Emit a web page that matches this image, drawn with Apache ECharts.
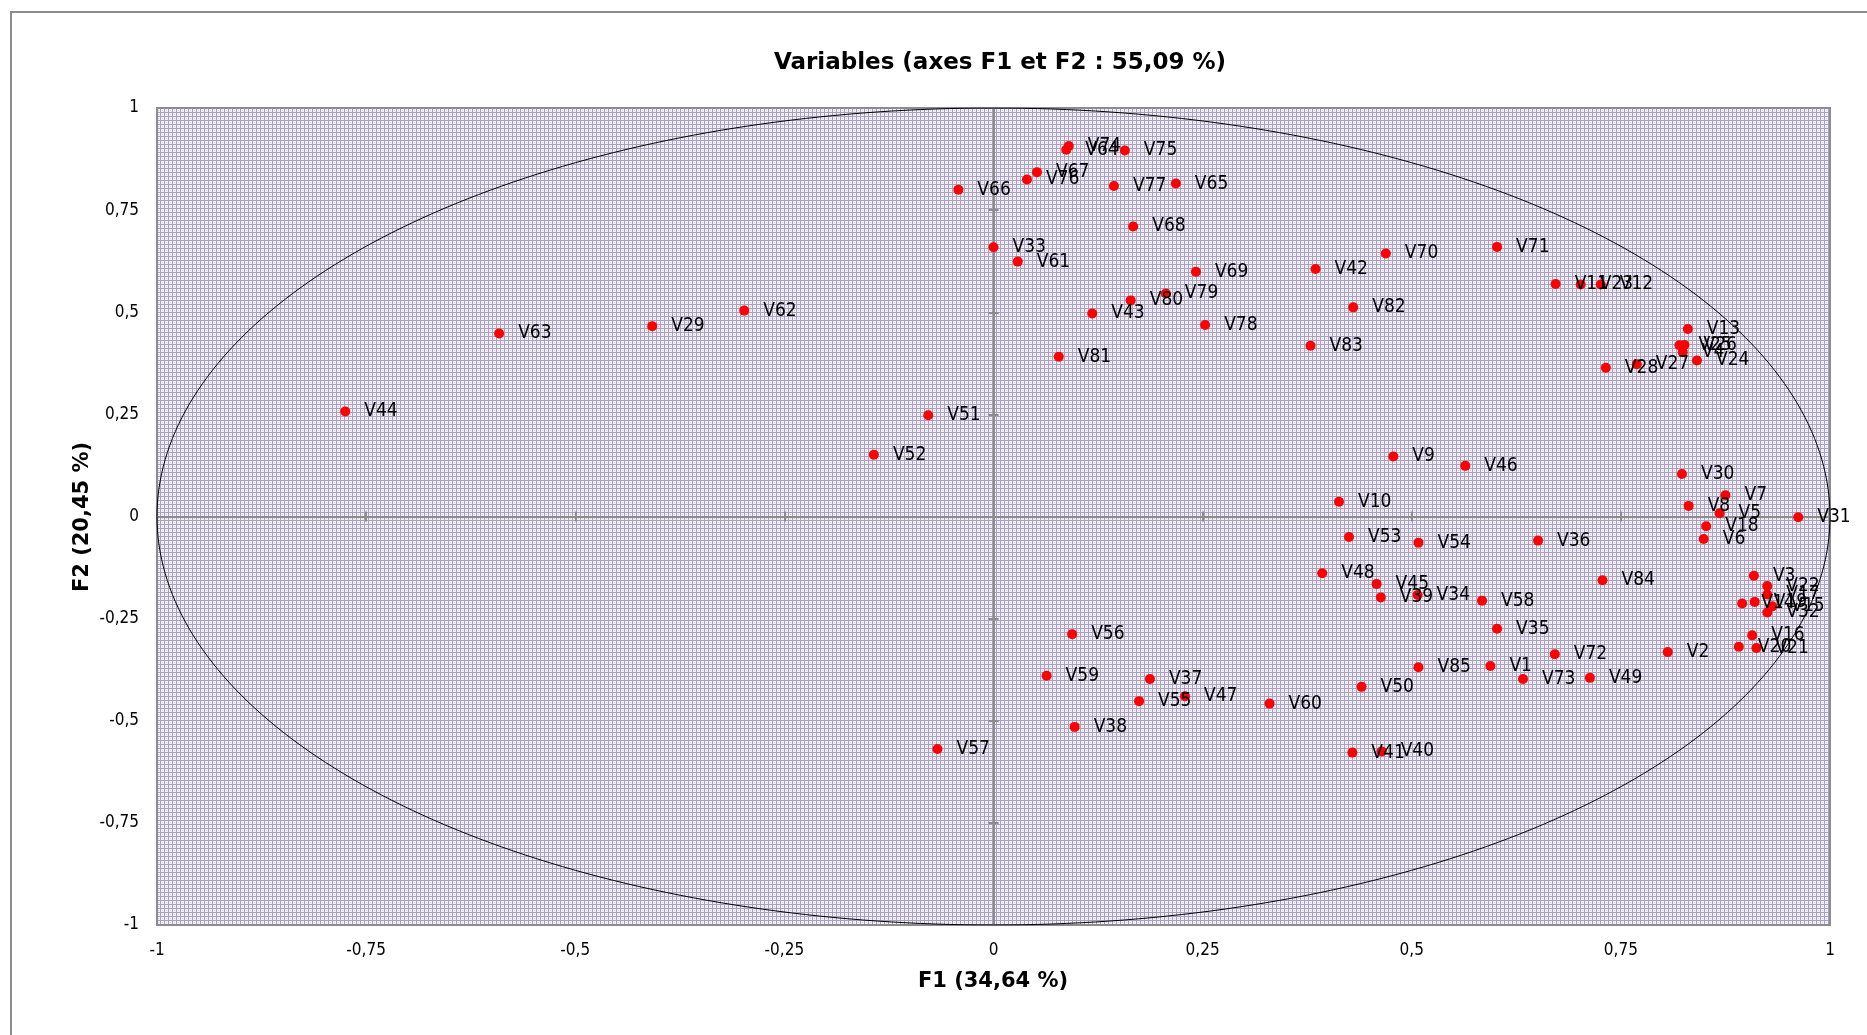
<!DOCTYPE html>
<html>
<head>
<meta charset="utf-8">
<script src="https://cdn.jsdelivr.net/npm/echarts@6/dist/echarts.min.js"></script>
<style>
html,body{margin:0;padding:0;background:#fff;}
#chart{width:1867px;height:1035px;}
</style>
</head>
<body>
<div id="chart"></div>
<script>
// ---- Data ----
const names = ["V1","V2","V3","V4","V5","V6","V7","V8","V9","V10",
"V11","V12","V13","V14","V15","V16","V17","V18","V19","V20",
"V21","V22","V23","V24","V25","V26","V27","V28","V29","V30",
"V31","V32","V33","V34","V35","V36","V37","V38","V39","V40",
"V41","V42","V43","V44","V45","V46","V47","V48","V49","V50",
"V51","V52","V53","V54","V55","V56","V57","V58","V59","V60",
"V61","V62","V63","V64","V65","V66","V67","V68","V69","V70",
"V71","V72","V73","V74","V75","V76","V77","V78","V79","V80",
"V81","V82","V83","V84","V85"];
const f1 = [0.594,0.806,0.909,0.824,0.868,0.849,0.875,0.831,0.478,0.413,
0.672,0.726,0.830,0.895,0.931,0.907,0.925,0.852,0.910,0.891,
0.912,0.925,0.702,0.841,0.820,0.826,0.769,0.732,-0.408,0.823,
0.962,0.925,0.000,0.507,0.602,0.651,0.187,0.097,0.463,0.464,
0.429,0.385,0.118,-0.775,0.458,0.564,0.229,0.393,0.713,0.440,
-0.078,-0.143,0.425,0.508,0.174,0.094,-0.067,0.584,0.0635,0.330,
0.029,-0.298,-0.591,0.087,0.218,-0.042,0.052,0.167,0.242,0.469,
0.602,0.671,0.633,0.090,0.157,0.040,0.144,0.253,0.206,0.164,
0.078,0.430,0.379,0.728,0.508];
const f2 = [-0.366,-0.332,-0.145,0.402,0.008,-0.055,0.052,0.026,0.147,0.036,
0.569,0.568,0.459,-0.213,-0.220,-0.291,-0.191,-0.024,-0.209,-0.319,
-0.322,-0.170,0.568,0.382,0.419,0.420,0.373,0.364,0.466,0.104,
-0.002,-0.235,0.659,-0.192,-0.275,-0.059,-0.398,-0.515,-0.198,-0.575,
-0.578,0.606,0.497,0.257,-0.165,0.124,-0.440,-0.139,-0.395,-0.417,
0.248,0.151,-0.050,-0.064,-0.452,-0.288,-0.569,-0.206,-0.390,-0.458,
0.624,0.504,0.448,0.898,0.815,0.800,0.843,0.710,0.599,0.644,
0.660,-0.337,-0.398,0.907,0.896,0.825,0.809,0.469,0.546,0.529,
0.391,0.512,0.418,-0.156,-0.369];
const axisTicks = [-1,-0.75,-0.5,-0.25,0,0.25,0.5,0.75,1];

const titleText = "Variables (axes F1 et F2 : 55,09 %)";
const xName = "F1 (34,64 %)";
const yName = "F2 (20,45 %)";

// unit correlation circle (reference geometry, radius 1)
const circle = [];
for (let a = 0; a <= 360; a += 1) {
  const r = a * Math.PI / 180;
  circle.push([Math.cos(r), Math.sin(r)]);
}

// background pattern (Excel-like small grid)
const pc = document.createElement('canvas');
pc.width = 4; pc.height = 4;
const pctx = pc.getContext('2d');
pctx.fillStyle = '#f4f2f8'; pctx.fillRect(0,0,4,4);
pctx.fillStyle = '#a79fbf';
pctx.fillRect(0,0,4,1);
pctx.fillRect(0,0,1,4);
pctx.fillStyle = '#d2cde0';
pctx.fillRect(2,2,1,1);

const fmt = v => String(v).replace('.', ',');
const lblFont = '"DejaVu Sans Condensed","Noto Sans",sans-serif';

const pts = names.map((n, i) => [f1[i], f2[i], n]);

const chart = echarts.init(document.getElementById('chart'), null, {renderer: 'canvas'});

const baseAxis = {
  type: 'value', min: -1, max: 1, interval: 0.25,
  splitLine: {show: false}
};
const labelAxisX = Object.assign({}, baseAxis, {
  position: 'bottom',
  axisLine: {show: false, onZero: false},
  axisTick: {show: false},
  axisLabel: {formatter: fmt, margin: 17, color: '#000', fontSize: 17, fontFamily: lblFont}
});
const labelAxisY = Object.assign({}, baseAxis, {
  position: 'left',
  axisLine: {show: false, onZero: false},
  axisTick: {show: false},
  axisLabel: {formatter: fmt, margin: 18, color: '#000', fontSize: 17, fontFamily: lblFont}
});
function zeroAxis(pos, inside) {
  return Object.assign({}, baseAxis, {
    position: pos,
    axisLine: {show: true, onZero: true, lineStyle: {color: '#8c8c8c', width: 2}},
    axisTick: {show: true, inside: inside, length: 5, lineStyle: {color: '#8c8c8c', width: 2}},
    axisLabel: {show: false}
  });
}

chart.setOption({
  animation: false,
  backgroundColor: '#ffffff',
  grid: {
    left: 157, top: 108, width: 1673, height: 817,
    show: true, borderColor: '#8c8c8c', borderWidth: 2,
    backgroundColor: {image: pc, repeat: 'repeat'}
  },
  xAxis: [labelAxisX, zeroAxis('bottom', true), zeroAxis('bottom', false)],
  yAxis: [labelAxisY, zeroAxis('left', true), zeroAxis('left', false)],
  graphic: [
    {type: 'rect', shape: {x: 11, y: 12, width: 1900, height: 1100}, style: {fill: 'none', stroke: '#8c8c8c', lineWidth: 2}, z: -10, silent: true},
    {type: 'text', x: 1000, y: 63, style: {text: titleText, fill: '#000', font: 'bold 23px "DejaVu Sans", sans-serif', textAlign: 'center', textVerticalAlign: 'middle'}},
    {type: 'text', x: 993, y: 982, style: {text: xName, fill: '#000', font: 'bold 21px "DejaVu Sans", sans-serif', textAlign: 'center', textVerticalAlign: 'middle'}},
    {type: 'text', x: 83, y: 517, rotation: Math.PI / 2, style: {text: yName, fill: '#000', font: 'bold 21px "DejaVu Sans", sans-serif', textAlign: 'center', textVerticalAlign: 'middle'}}
  ],
  series: [
    {
      type: 'line', data: circle, showSymbol: false, symbol: 'none', silent: true,
      lineStyle: {color: '#000', width: 1}, z: 2, xAxisIndex: 0, yAxisIndex: 0
    },
    {
      type: 'scatter', data: pts, symbolSize: 10, xAxisIndex: 0, yAxisIndex: 0,
      itemStyle: {color: '#ff0000', opacity: 1},
      label: {show: true, position: 'right', distance: 14, formatter: p => p.value[2],
        color: '#000', fontSize: 19, fontFamily: lblFont},
      z: 3
    }
  ]
});
</script>
</body>
</html>
